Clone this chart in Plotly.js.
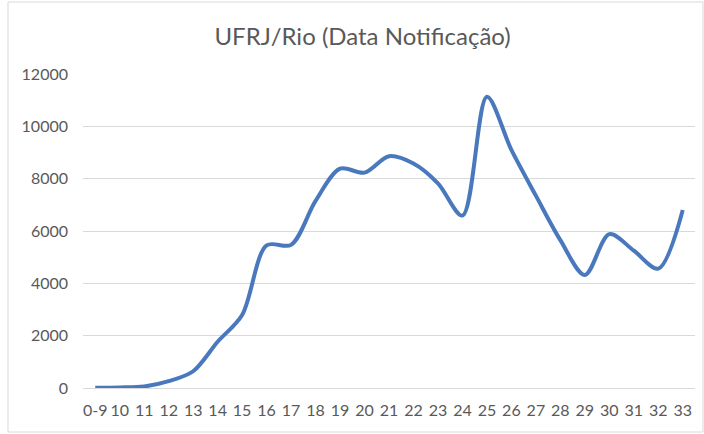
<!DOCTYPE html>
<html>
<head>
<meta charset="utf-8">
<script src="https://cdn.plot.ly/plotly-3.0.1.min.js"></script>
<style>html,body{margin:0;padding:0;background:#fff;}#chart{width:704px;height:434px;}</style>
</head>
<body>
<div id="chart"></div>
<script>
const categories = ["0-9","10","11","12","13","14","15","16","17","18","19","20","21","22","23","24","25","26","27","28","29","30","31","32","33"];
const values = [10, 20, 60, 260, 640, 1770, 2790, 5450, 5470, 7150, 8380, 8230, 8860, 8580, 7820, 6590, 11130, 9100, 7350, 5650, 4320, 5880, 5250, 4560, 6800];
const yTicks = [0, 2000, 4000, 6000, 8000, 10000, 12000];

const trace = {
  x: categories,
  y: values,
  type: 'scatter',
  mode: 'lines',
  line: {shape: 'spline', smoothing: 0.9, color: '#4a78bd', width: 4},
  hoverinfo: 'x+y'
};

const layout = {
  width: 704,
  height: 434,
  paper_bgcolor: '#ffffff',
  plot_bgcolor: '#ffffff',
  margin: {l: 83, r: 9, t: 74, b: 46},
  showlegend: false,
  title: {
    text: 'UFRJ/Rio (Data Notificação)',
    font: {family: 'Lato, "Open Sans", sans-serif', size: 24, color: '#595959'},
    x: 0.515, xanchor: 'center', y: 0.915, yanchor: 'middle'
  },
  xaxis: {
    type: 'category',
    range: [-0.5, categories.length - 0.5],
    showgrid: false,
    showline: true,
    linecolor: '#d9d9d9',
    linewidth: 1,
    ticks: '',
    tickangle: 0,
    ticklabelstandoff: 8,
    tickfont: {family: 'Lato, "Open Sans", sans-serif', size: 16, color: '#595959'},
    fixedrange: true
  },
  yaxis: {
    range: [0, 12000],
    tickvals: yTicks,
    ticktext: yTicks.map(String),
    showgrid: true,
    gridcolor: '#d9d9d9',
    gridwidth: 1,
    zeroline: false,
    showline: false,
    ticks: '',
    ticklabelstandoff: 14,
    tickfont: {family: 'Lato, "Open Sans", sans-serif', size: 16, color: '#595959'},
    fixedrange: true
  },
  shapes: [{
    type: 'rect', xref: 'paper', yref: 'paper',
    x0: -75/612, x1: 1 + 8/612, y0: -44/314, y1: 1 + 72/314,
    line: {color: '#d9d9d9', width: 1}
  }]
};

Plotly.newPlot('chart', [trace], layout, {displayModeBar: false, staticPlot: true});
</script>
</body>
</html>
